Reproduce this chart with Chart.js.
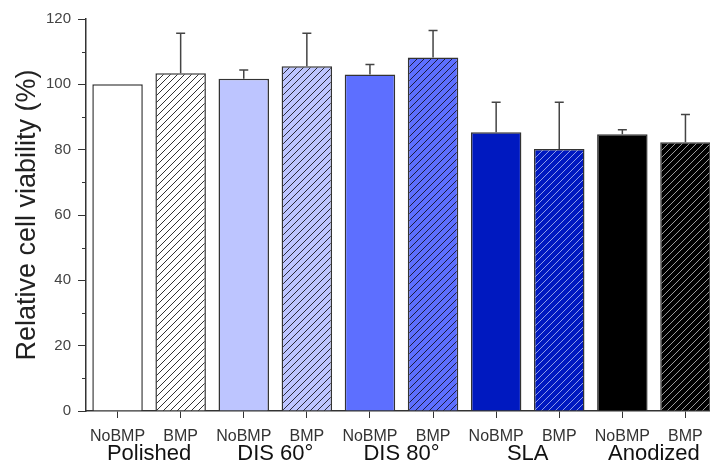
<!DOCTYPE html>
<html>
<head>
<meta charset="utf-8">
<script src="https://cdn.jsdelivr.net/npm/chart.js@4.4.1/dist/chart.umd.min.js"></script>
<style>
  html, body { margin: 0; padding: 0; background: #fff; overflow: hidden; }
  #chart { display: block; }
</style>
</head>
<body>
<canvas id="chart" width="730" height="473"></canvas>
<script>
// values
const categories = ['NoBMP', 'BMP', 'NoBMP', 'BMP', 'NoBMP', 'BMP', 'NoBMP', 'BMP', 'NoBMP', 'BMP'];
const groups = ['Polished', 'DIS 60°', 'DIS 80°', 'SLA', 'Anodized'];
const viability = [100, 103.4, 101.7, 105.5, 103.0, 108.2, 85.3, 80.2, 84.7, 82.3];
const errorUp = [0, 12.2, 2.7, 10.1, 3.1, 8.3, 9.2, 14.3, 1.4, 8.5];
const yTicks = [0, 20, 40, 60, 80, 100, 120];

const groupFill = ['#ffffff', '#bdc5ff', '#5d6fff', '#0019c0', '#000000'];
const hatchInk = ['#333333', '#2a2a3a', '#1c1c40', '#8d9be8', '#9a9a9a'];

function hatch(bg, ink) {
    const s = 7;
    const c = document.createElement('canvas');
    c.width = s;
    c.height = s;
    const g = c.getContext('2d');
    g.fillStyle = bg;
    g.fillRect(0, 0, s, s);
    g.strokeStyle = ink;
    g.lineWidth = 1;
    g.beginPath();
    g.moveTo(0, s); g.lineTo(s, 0);
    g.moveTo(-1, 1); g.lineTo(1, -1);
    g.moveTo(s - 1, s + 1); g.lineTo(s + 1, s - 1);
    g.stroke();
    return g.createPattern(c, 'repeat');
}

const fills = categories.map((c, i) => {
    const gi = Math.floor(i / 2);
    return c === 'BMP' ? hatch(groupFill[gi], hatchInk[gi]) : groupFill[gi];
});

const errorBars = {
    id: 'errorBars',
    afterDatasetsDraw(chart) {
        const ctx = chart.ctx;
        const y = chart.scales.y;
        const meta = chart.getDatasetMeta(0);
        ctx.save();
        ctx.strokeStyle = '#444';
        ctx.lineWidth = 1.5;
        meta.data.forEach((bar, i) => {
            if (!errorUp[i]) return;
            const top = y.getPixelForValue(viability[i] + errorUp[i]);
            ctx.beginPath();
            ctx.moveTo(bar.x, bar.y);
            ctx.lineTo(bar.x, top);
            ctx.moveTo(bar.x - 4.5, top);
            ctx.lineTo(bar.x + 4.5, top);
            ctx.stroke();
        });
        ctx.restore();
    }
};

// short minor ticks halfway between the labelled ones
const minorTicks = {
    id: 'minorTicks',
    afterDraw(chart) {
        const ctx = chart.ctx;
        const y = chart.scales.y;
        ctx.save();
        ctx.strokeStyle = '#333';
        ctx.lineWidth = 1;
        for (let i = 0; i < yTicks.length - 1; i++) {
            const py = Math.round(y.getPixelForValue((yTicks[i] + yTicks[i + 1]) / 2)) + 0.5;
            ctx.beginPath();
            ctx.moveTo(y.right - 4, py);
            ctx.lineTo(y.right, py);
            ctx.stroke();
        }
        ctx.restore();
    }
};

new Chart(document.getElementById('chart'), {
    type: 'bar',
    data: {
        labels: categories,
        datasets: [{
            data: viability,
            backgroundColor: fills,
            borderColor: '#333',
            borderWidth: 1.5,
            borderSkipped: 'bottom',
            barPercentage: 0.8,
            categoryPercentage: 1
        }]
    },
    options: {
        responsive: false,
        animation: false,
        devicePixelRatio: 1,
        layout: { padding: { top: 19, right: 13, bottom: 0, left: 0 } },
        plugins: { legend: { display: false }, tooltip: { enabled: false } },
        scales: {
            x: {
                offset: true,
                afterFit(scale) { scale.height = 31; },
                grid: { drawOnChartArea: false, offset: false, tickLength: 7, tickColor: '#333', tickWidth: 1 },
                border: { color: '#333', width: 1.5 },
                ticks: { color: '#333', padding: 9, font: { family: 'Liberation Sans', size: 16 } }
            },
            x2: {
                type: 'category',
                labels: groups,
                position: 'bottom',
                offset: true,
                afterFit(scale) { scale.height = 31; },
                grid: { display: false, drawTicks: false },
                border: { display: false },
                ticks: { color: '#111', padding: -1, font: { family: 'Liberation Sans', size: 22 } }
            },
            y: {
                min: 0,
                max: 120,
                afterBuildTicks(scale) { scale.ticks = yTicks.map(v => ({ value: v })); },
                afterFit(scale) { scale.width = 86; },
                grid: { drawOnChartArea: false, tickLength: 8, tickColor: '#333', tickWidth: 1 },
                border: { color: '#333', width: 1.5 },
                ticks: { color: '#444', padding: 7, font: { family: 'Liberation Sans', size: 15 } },
                title: {
                    display: true,
                    text: 'Relative cell viability (%)',
                    color: '#222',
                    padding: { top: 11, bottom: 0 },
                    font: { family: 'Liberation Sans', size: 27 }
                }
            }
        }
    },
    plugins: [errorBars, minorTicks]
});
</script>
</body>
</html>
